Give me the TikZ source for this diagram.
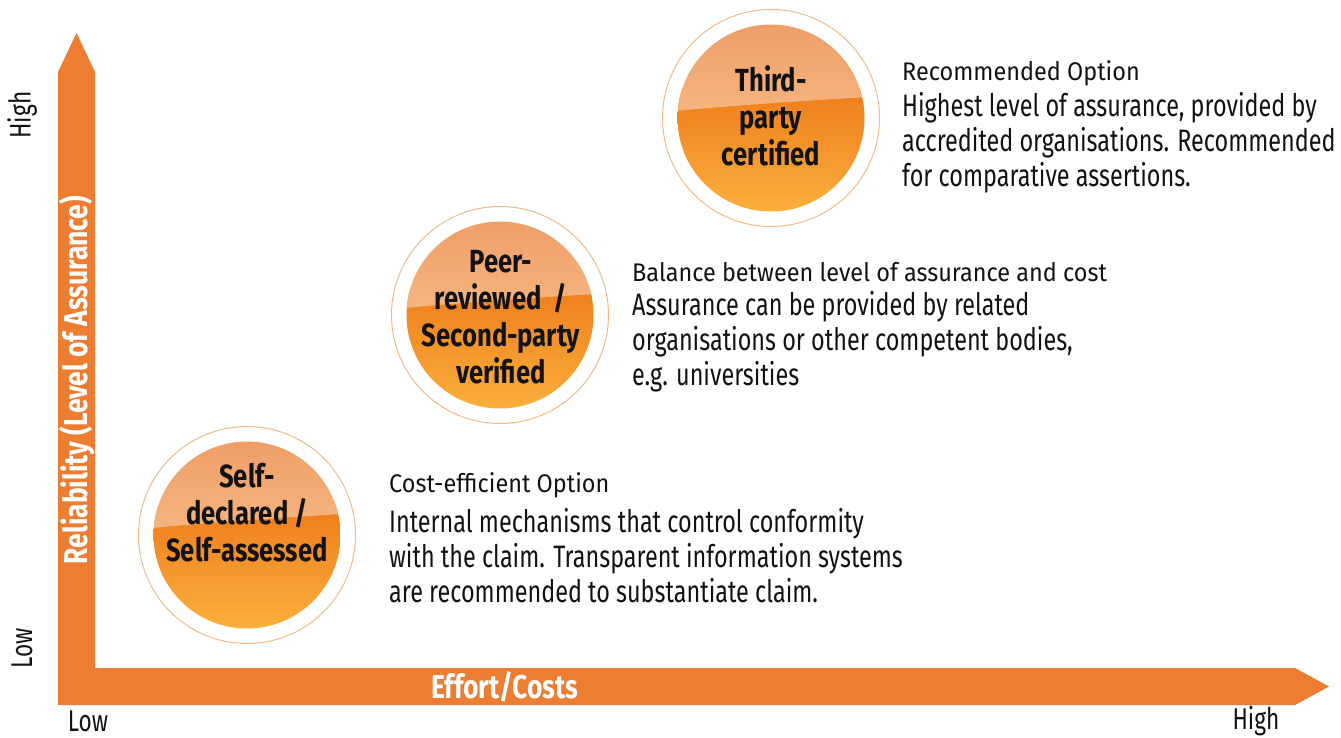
\documentclass[tikz,border=0pt]{standalone}
\usepackage{fontspec}
\setmainfont{Fira Sans}
\newfontfamily\headfont[FakeStretch=0.92]{Fira Sans}
\newfontfamily\bodyfont[FakeStretch=0.755]{Fira Sans}
\newfontfamily\ballfont[FakeStretch=0.8]{Fira Sans}

\definecolor{axisorange}{RGB}{237,125,49}
\definecolor{ringorange}{RGB}{244,185,135}
\definecolor{glosstop}{RGB}{239,158,103}
\definecolor{glossbot}{RGB}{245,180,127}
\definecolor{balltop}{RGB}{238,125,28}
\definecolor{ballbot}{RGB}{250,176,60}
\definecolor{inkgray}{RGB}{18,18,18}

\tikzset{
    ring/.style={circle, draw=ringorange, line width=1pt, minimum size=217pt, inner sep=0pt},
    balltext/.style={align=center, inner sep=0pt, text=inkgray,
        font=\ballfont\bfseries\fontsize{32}{37}\selectfont},
    headtext/.style={anchor=base west, inner sep=0pt, text=inkgray,
        font=\headfont\fontsize{25.5}{30}\selectfont},
    bodytext/.style={anchor=base west, align=left, inner sep=0pt, text=inkgray,
        font=\bodyfont\fontsize{31}{35}\selectfont},
    axislabel/.style={inner sep=0pt, text=white,
        font=\ballfont\bfseries\fontsize{33}{36}\selectfont},
    ticklabel/.style={inner sep=0pt, text=inkgray,
        font=\bodyfont\fontsize{30}{36}\selectfont}
}

\begin{document}
\begin{tikzpicture}[x=1pt,y=-1pt]
        \useasboundingbox (0,0) rectangle (1341,737);

        % axes
        \fill[axisorange] (58,705) -- (58,72) -- (76.5,33) -- (95,72) -- (95,668)
            -- (1295,668) -- (1329,686.5) -- (1295,705) -- cycle;

        \node[axislabel] (effort) at (505,687) {Effort/Costs};
        \node[axislabel, rotate=90] (reliab) at (77,380) {Reliability (Level of Assurance)};
        \node[ticklabel] (xlow) at (88,721) {Low};
        \node[ticklabel] (xhigh) at (1256,721) {High};
        \node[ticklabel, rotate=90] (ylow) at (22,648) {Low};
        \node[ticklabel, rotate=90] (yhigh) at (22,115) {High};

        % glossy balls
        \foreach \cx/\cy in {247/535, 500/315, 771/118}{
            \begin{scope}
                \clip (\cx,\cy) circle (93.5pt);
                \shade[top color=balltop, bottom color=ballbot]
                    (\cx-96,\cy-30) rectangle (\cx+96,\cy+96);
                \shade[top color=glosstop, bottom color=glossbot]
                    (\cx-96,\cy-7) .. controls (\cx-30,\cy-13) and (\cx+30,\cy-17) .. (\cx+96,\cy-21)
                    -- (\cx+96,\cy-96) -- (\cx-96,\cy-96) -- cycle;
            \end{scope}
        }

        \node[ring] (selfring) at (247,535) {};
        \node[ring] (peerring) at (500,315) {};
        \node[ring] (thirdring) at (771,118) {};

        \node[balltext] (selftxt) at (247,513) {Self-\\declared /\\Self-assessed};
        \node[balltext] (peertxt) at (501,317) {Peer-\\reviewed\ \ /\\Second-party\\verified};
        \node[balltext] (thirdtxt) at (771,116) {Third-\\party\\certified};

        % explanations (multi-line nodes sit on their last baseline)
        \node[headtext] (recomhead) at (902,80) {Recommended Option};
        \node[bodytext] (recombody) at (902,186) {Highest level of assurance, provided by\\accredited organisations. Recommended\\for comparative assertions.};

        \node[headtext] (balhead) at (632,281) {Balance between level of assurance and cost};
        \node[bodytext] (balbody) at (632,385) {Assurance can be provided by related\\organisations or other competent bodies,\\e.g. universities};

        \node[headtext] (costhead) at (389,492) {Cost-efficient Option};
        \node[bodytext] (costbody) at (389,602) {Internal mechanisms that control conformity\\with the claim. Transparent information systems\\are recommended to substantiate claim.};
\end{tikzpicture}
\end{document}
